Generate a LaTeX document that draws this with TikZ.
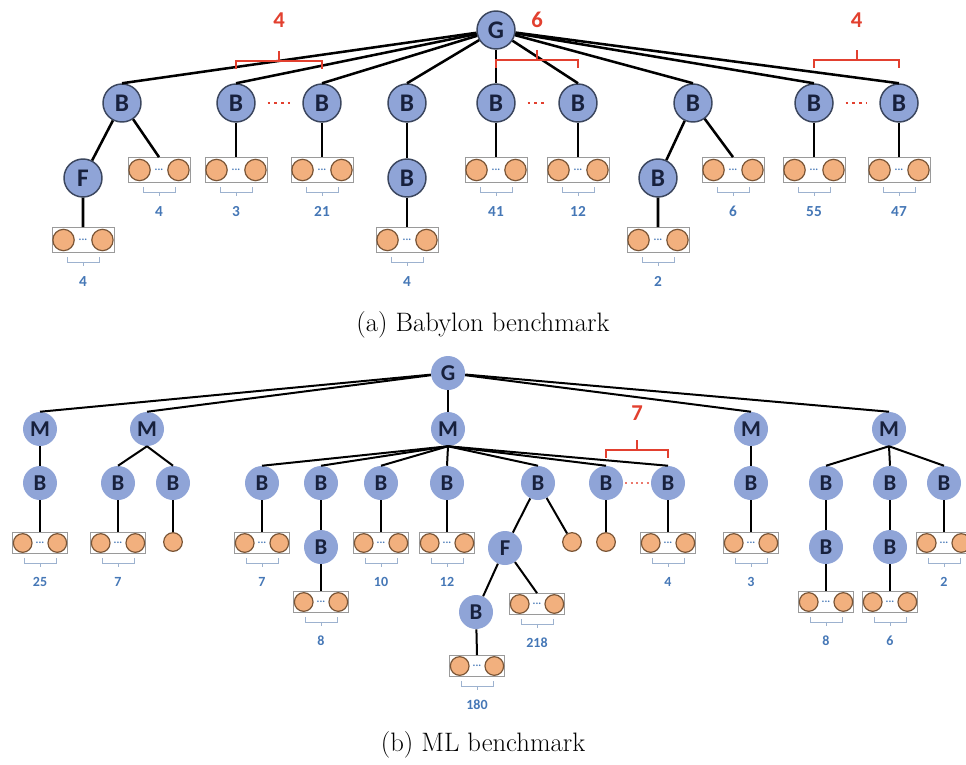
\documentclass[tikz,border=0pt]{standalone}
\usepackage{fontspec}
\usetikzlibrary{positioning,calc}
\newfontfamily\carlito{Carlito}
\definecolor{nodeblue}{HTML}{8FA4D7}
\definecolor{nodeline}{HTML}{3B465E}
\definecolor{nodetext}{HTML}{18213D}
\definecolor{leaforange}{HTML}{F2B07E}
\definecolor{leafline}{HTML}{7A5536}
\definecolor{boxgray}{HTML}{9A9A9A}
\definecolor{countblue}{HTML}{4577B6}
\definecolor{brkblue}{HTML}{9DB2CF}
\definecolor{bracered}{HTML}{E2402F}

% box of leaves: name, position, count, size (a or b)
\newcommand{\leafbox}[4]{%
  \node[lbox#4] (#1) at (#2) {};
  \node[leaf#4, anchor=west] at ([xshift=0.5pt]#1.west) {};
  \node[leaf#4, anchor=east] at ([xshift=-0.5pt]#1.east) {};
  \node[boxdots] at (#1.center) {...};
  \draw[brk] ([shift={(-16,4)}]#1.south) -- ++(0,5) -- ++(32,0) -- ++(0,-5)
    ([shift={(0,9)}]#1.south) -- ++(0,4);
  \node[cnt#4] at ([shift={(0,23)}]#1.south) {#3};
}
% red brace with count: left node, right node, brace y, label y, label
\newcommand{\countbrace}[5]{%
  \draw[redbr] (#1 |- 0,#3) ++(0,8) -- ++(0,-8) -- (#2 |- 0,#3) -- ++(0,8);
  \draw[redbr] ($(#1 |- 0,#3)!0.5!(#2 |- 0,#3)$) -- ++(0,-10);
  \node[redlbl] at ($(#1 |- 0,#4)!0.5!(#2 |- 0,#4)$) {#5};
}

\begin{document}
\begin{tikzpicture}[x=0.75pt, y=-0.75pt,
    nodea/.style={circle, draw=nodeline, line width=1.1pt, fill=nodeblue,
      minimum size=28.5pt, inner sep=0, text=nodetext,
      font=\carlito\bfseries\fontsize{19}{19}\selectfont},
    nodeb/.style={circle, fill=nodeblue, minimum size=25.5pt, inner sep=0,
      text=nodetext, font=\carlito\bfseries\fontsize{17}{17}\selectfont},
    lboxa/.style={rectangle, draw=boxgray, fill=white, line width=0.6pt,
      minimum width=46.5pt, minimum height=18.75pt, inner sep=0},
    lboxb/.style={lboxa, minimum width=41.25pt, minimum height=15.75pt},
    leafa/.style={circle, draw=leafline, line width=0.9pt, fill=leaforange,
      minimum size=16pt, inner sep=0},
    leafb/.style={leafa, minimum size=14pt},
    boxdots/.style={inner sep=0, text=countblue,
      font=\carlito\bfseries\fontsize{8}{8}\selectfont},
    brk/.style={draw=brkblue, line width=0.6pt},
    cnta/.style={anchor=north, inner sep=0, text=countblue,
      font=\carlito\bfseries\fontsize{11.5}{11.5}\selectfont},
    cntb/.style={cnta, font=\carlito\bfseries\fontsize{10.5}{10.5}\selectfont},
    edgea/.style={line width=1.9pt},
    edgeb/.style={line width=1.5pt},
    redbr/.style={draw=bracered, line width=1.5pt},
    redlbl/.style={text=bracered, inner sep=0,
      font=\carlito\bfseries\fontsize{17}{17}\selectfont},
    reddots/.style={draw=bracered, line width=2pt, dash pattern=on 2pt off 3pt,
      shorten >=9pt, shorten <=9pt},
    reddotsb/.style={draw=bracered!70, line width=1.2pt,
      dash pattern=on 1.5pt off 2.5pt, shorten >=1.5pt, shorten <=1.5pt},
    capt/.style={font=\fontsize{20}{24}\selectfont}]
  \useasboundingbox (0,0) rectangle (966,764);

  % (a) Babylon tree
  \node[nodea] (ga) at (496,30) {G};
  \node[nodea] (a1) at (122,103) {B};
  \node[nodea] (a2) at (236,103) {B};
  \node[nodea] (a3) at (322,103) {B};
  \node[nodea] (a4) at (407,103) {B};
  \node[nodea] (a5) at (496,103) {B};
  \node[nodea] (a6) at (578,103) {B};
  \node[nodea] (a7) at (693,103) {B};
  \node[nodea] (a8) at (814,103) {B};
  \node[nodea] (a9) at (899,103) {B};
  \node[nodea] (a1f) at (83,178) {F};
  \node[nodea] (a4b) at (407,178) {B};
  \node[nodea] (a7b) at (658,178) {B};
  \leafbox{a1fx}{83,240}{4}{a}
  \leafbox{a1x}{159,170}{4}{a}
  \leafbox{a2x}{236,170}{3}{a}
  \leafbox{a3x}{322,170}{21}{a}
  \leafbox{a4x}{407,240}{4}{a}
  \leafbox{a5x}{496,170}{41}{a}
  \leafbox{a6x}{578,170}{12}{a}
  \leafbox{a7bx}{658,240}{2}{a}
  \leafbox{a7x}{733,170}{6}{a}
  \leafbox{a8x}{814,170}{55}{a}
  \leafbox{a9x}{899,170}{47}{a}

  \foreach \i in {1,...,9}
    \draw[edgea] (ga) -- (a\i.north);
  \draw[edgea] (a1) -- (a1f) (a1f) -- (a1fx.north) (a1) -- (a1x.north);
  \draw[edgea] (a2) -- (a2x.north) (a3) -- (a3x.north);
  \draw[edgea] (a4) -- (a4b) (a4b) -- (a4x.north);
  \draw[edgea] (a5) -- (a5x.north) (a6) -- (a6x.north);
  \draw[edgea] (a7) -- (a7b) (a7b) -- (a7bx.north) (a7) -- (a7x.north);
  \draw[edgea] (a8) -- (a8x.north) (a9) -- (a9x.north);

  \draw[reddots] (a2) -- (a3);
  \draw[reddots] (a5) -- (a6);
  \draw[reddots] (a8) -- (a9);
  \countbrace{a2}{a3}{61}{20}{4}
  \countbrace{a5}{a6}{60}{20}{6}
  \countbrace{a8}{a9}{60}{20}{4}

  \node[capt] (capa) at (483,325) {(a) Babylon benchmark};

  % (b) ML tree
  \node[nodeb] (gb) at (448,373) {G};
  \node[nodeb] (m1) at (40,429) {M};
  \node[nodeb] (m2) at (147,429) {M};
  \node[nodeb] (m3) at (448,429) {M};
  \node[nodeb] (m4) at (751,429) {M};
  \node[nodeb] (m5) at (889,429) {M};
  \node[nodeb] (b11) at (40,483) {B};
  \node[nodeb] (b21) at (118,483) {B};
  \node[nodeb] (b22) at (173,483) {B};
  \node[nodeb] (b31) at (262,483) {B};
  \node[nodeb] (b32) at (321,483) {B};
  \node[nodeb] (b33) at (381,483) {B};
  \node[nodeb] (b34) at (447,483) {B};
  \node[nodeb] (b35) at (538,483) {B};
  \node[nodeb] (b36) at (606,483) {B};
  \node[nodeb] (b37) at (668,483) {B};
  \node[nodeb] (b41) at (751,483) {B};
  \node[nodeb] (b51) at (826,483) {B};
  \node[nodeb] (b52) at (890,483) {B};
  \node[nodeb] (b53) at (944,483) {B};
  \node[nodeb] (b32b) at (321,547) {B};
  \node[nodeb] (b35f) at (505,548) {F};
  \node[nodeb] (b35fb) at (476,612) {B};
  \node[nodeb] (b51b) at (826,547) {B};
  \node[nodeb] (b52b) at (890,547) {B};
  \node[leafb] (b22l) at (173,542) {};
  \node[leafb] (b35l) at (572,542) {};
  \node[leafb] (b36l) at (606,542) {};
  \leafbox{b11x}{40,543}{25}{b}
  \leafbox{b21x}{118,543}{7}{b}
  \leafbox{b31x}{262,543}{7}{b}
  \leafbox{b32x}{321,602}{8}{b}
  \leafbox{b33x}{381,543}{10}{b}
  \leafbox{b34x}{447,543}{12}{b}
  \leafbox{b35fx}{537,604}{218}{b}
  \leafbox{b35fbx}{477,666}{180}{b}
  \leafbox{b37x}{668,543}{4}{b}
  \leafbox{b41x}{751,543}{3}{b}
  \leafbox{b51x}{826,602}{8}{b}
  \leafbox{b52x}{890,602}{6}{b}
  \leafbox{b53x}{944,543}{2}{b}

  \foreach \i in {1,...,5}
    \draw[edgeb] (gb) -- (m\i.north);
  \draw[edgeb] (m1) -- (b11) (b11) -- (b11x.north);
  \draw[edgeb] (m2.south) -- (b21.north) (m2.south) -- (b22.north);
  \draw[edgeb] (b21) -- (b21x.north) (b22) -- (b22l);
  \foreach \i in {1,...,7}
    \draw[edgeb] (m3.south) -- (b3\i.north);
  \draw[edgeb] (b31) -- (b31x.north) (b32) -- (b32b) (b32b) -- (b32x.north);
  \draw[edgeb] (b33) -- (b33x.north) (b34) -- (b34x.north);
  \draw[edgeb] (b35) -- (b35f) (b35) -- (b35l) (b35f) -- (b35fb)
    (b35f) -- (b35fx.north) (b35fb) -- (b35fbx.north);
  \draw[edgeb] (b36) -- (b36l) (b37) -- (b37x.north);
  \draw[edgeb] (m4) -- (b41) (b41) -- (b41x.north);
  \foreach \i in {1,...,3}
    \draw[edgeb] (m5.south) -- (b5\i.north);
  \draw[edgeb] (b51) -- (b51b) (b51b) -- (b51x.north);
  \draw[edgeb] (b52) -- (b52b) (b52b) -- (b52x.north) (b53) -- (b53x.north);

  \draw[reddotsb] (b36) -- (b37);
  \countbrace{b36}{b37}{450}{413}{7}

  \node[capt] (capb) at (483,745) {(b) ML benchmark};
\end{tikzpicture}
\end{document}
